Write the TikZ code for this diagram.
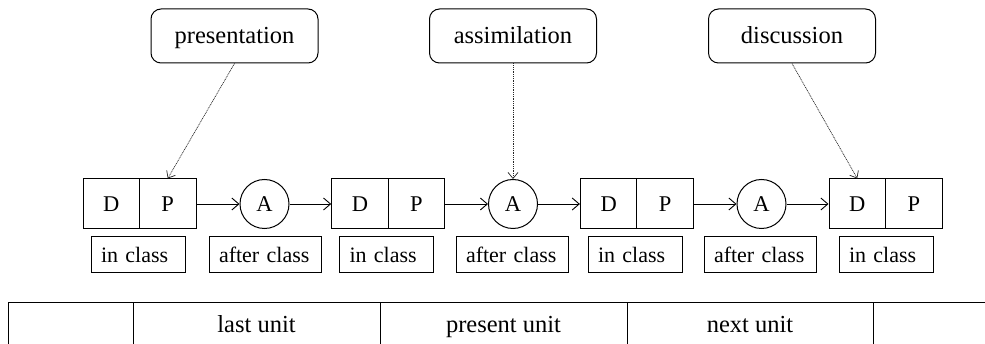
\documentclass[tikz,border=0pt]{standalone}
\usepackage{fontspec}
\setmainfont{Liberation Serif}
\usetikzlibrary{arrows.meta,positioning}
\begin{document}
\begin{tikzpicture}[x=1pt,y=-1pt,
  line width=1pt,
  half/.style={draw,minimum width=56.5pt,minimum height=50pt,inner sep=0pt,font=\fontsize{22.5}{26}\selectfont},
  actnode/.style={draw,circle,minimum size=49pt,inner sep=0pt,font=\fontsize{22.5}{26}\selectfont},
  lbl/.style={draw,minimum height=36pt,inner xsep=10pt,inner ysep=0pt,align=left,font=\fontsize{22}{26}\selectfont},
  phase/.style={draw,rounded corners=10pt,minimum width=167pt,minimum height=54pt,inner sep=0pt,text height=19pt,text depth=3pt,font=\fontsize{24.5}{28}\selectfont},
  flow/.style={-{Straight Barb[length=7pt,width=12pt]},line width=0.9pt},
  hint/.style={-{Straight Barb[length=6pt,width=10pt]},dash pattern=on 1pt off 0.8pt,line width=0.7pt,black!85},
  unit/.style={anchor=base,inner sep=0pt,font=\fontsize{24.5}{28}\selectfont}
]
\useasboundingbox (0,0) rectangle (985,344);

% D-P blocks
\foreach \k/\l in {1/83,2/331.7,3/580.4,4/829}{
  \node[half] (d\k) at (\l+28.25,204) {D};
  \node[half] (p\k) at (\l+84.75,204) {P};
}
% A circles
\node[actnode] (a1) at (264.5,204) {A};
\node[actnode] (a2) at (513,204) {A};
\node[actnode] (a3) at (761.5,204) {A};

% flow arrows
\draw[flow] (p1) -- (a1);
\draw[flow] (a1) -- (d2);
\draw[flow] (p2) -- (a2);
\draw[flow] (a2) -- (d3);
\draw[flow] (p3) -- (a3);
\draw[flow] (a3) -- (d4);

% labels under
\node[lbl,text width=74pt] (c1) at (138,255) {in class};
\node[lbl,text width=92pt] (f1) at (265,255) {after class};
\node[lbl,text width=74pt] (c2) at (386.5,255) {in class};
\node[lbl,text width=92pt] (f2) at (512,255) {after class};
\node[lbl,text width=74pt] (c3) at (635,255) {in class};
\node[lbl,text width=92pt] (f3) at (760,255) {after class};
\node[lbl,text width=74pt] (c4) at (886,255) {in class};

% phase boxes
\node[phase] (pres) at (234.5,36) {presentation};
\node[phase] (assim) at (513,36) {assimilation};
\node[phase] (disc) at (792,36) {discussion};

\draw[hint] (pres.south) -- (p1.north);
\draw[hint] (assim.south) -- (a2.north);
\draw[hint] (disc.south) -- (d4.north);

% bottom table
\coordinate (tl) at (8,303);
\coordinate (tr) at (985,303);
\draw (8,344) -- (tl) -- (tr);
\foreach \x in {133,380,627,873}{
  \draw (\x,303) -- (\x,344);
}
\node[unit] (u1) at (256.5,333) {last unit};
\node[unit] (u2) at (503.5,333) {present unit};
\node[unit] (u3) at (750,333) {next unit};
\end{tikzpicture}
\end{document}
